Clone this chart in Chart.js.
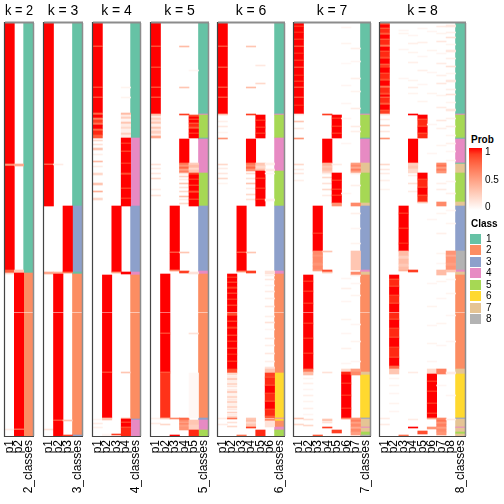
<!DOCTYPE html>
<html>
<head>
<meta charset="utf-8">
<script src="https://cdn.jsdelivr.net/npm/chart.js@4.4.1/dist/chart.umd.min.js"></script>
<style>
  body { margin: 0; background: #fff; width: 504px; height: 504px; position: relative; overflow: hidden;
         font-family: "Liberation Sans", Arial, sans-serif; }
  canvas { position: absolute; top: 0; }
  .lg { position: absolute; font-size: 10px; color: #000; line-height: 10px; }
  .lg.b { font-weight: bold; }
</style>
</head>
<body>
<script>
// Rows are samples (0..413, top to bottom). Runs are [firstRow, lastRow, value].
const N_ROWS = 413;
const panelKs = [2, 3, 4, 5, 6, 7, 8];
const classNames = ['1', '2', '3', '4', '5', '6', '7', '8'];
const probTicks = [1, 0.5, 0];

// class memberships, runs of [start, end, class]
const classesK2 = [[0,250,1],[250,289,2],[290,413,2]];
const classesK3 = [[0,183,1],[183,249,3],[249,251,1],[251,289,2],[290,412,2],[412,413,3]];
const classesK4 = [[0,115,1],[115,183,4],[183,249,3],[249,252,4],[252,289,2],[290,396,2],[396,397,3],[397,413,4]];
const classesK5 = [[0,91,1],[91,92,4],[92,115,5],[115,116,1],[116,150,4],[150,183,5],[183,248,3],[248,251,4],
  [251,289,2],[290,395,2],[395,397,3],[397,407,4],[407,413,5]];
const classesK6 = [[0,91,1],[91,92,4],[92,115,5],[115,148,4],[148,183,5],[183,248,3],[248,251,4],[251,289,2],
  [290,350,2],[350,395,6],[395,396,4],[396,398,6],[398,404,2],[404,407,4],[407,413,5]];
const classesK7 = [[0,91,1],[91,92,4],[92,115,5],[115,116,1],[116,140,4],[140,150,7],[150,180,5],[180,183,7],
  [183,247,3],[247,249,4],[249,252,7],[252,289,2],[290,349,2],[349,352,7],[352,395,6],[395,396,3],[396,404,7],
  [404,405,4],[405,409,7],[409,412,5],[412,413,8]];
const classesK8 = [[0,91,1],[91,92,4],[92,115,5],[115,116,1],[116,140,4],[140,141,1],[141,150,7],[150,179,5],
  [179,183,7],[183,228,3],[228,247,8],[247,249,4],[249,252,7],[252,289,2],[290,346,2],[346,351,7],[351,395,6],
  [395,396,3],[396,404,7],[404,405,4],[405,409,7],[409,411,5],[411,413,7]];

// membership probabilities, one list of runs per column p1..pk
const probK2 = [
  [[0,141,1],[141,143,0.55],[143,247,1],[247,250,0.8],[250,251,0.2],[406,407,0.1]],
  [[141,143,0.45],[247,250,0.3],[250,289,1],[290,406,1],[406,407,0.55],[407,413,1]]
];
const probK3 = [
  [[0,141,1],[141,142,0.6],[142,183,1],[249,251,0.45],[406,407,0.15]],
  [[141,142,0.1],[249,251,0.4],[251,289,1],[290,397,1],[397,398,0.7],[398,413,1]],
  [[183,249,1],[249,250,0.7],[397,398,0.3],[412,413,0.9]]
];
const probK4 = [
  [[0,23,1],[23,24,0.7],[24,64,1],[64,65,0.75],[65,74,1],[74,75,0.7],[75,90,1],[90,92,0.75],[92,95,1],[95,97,0.65],
   [97,100,0.9],[100,102,0.7],[102,106,1],[106,108,0.75],[108,112,0.95],[112,115,0.8],[117,118,0.2],[121,122,0.15],
   [125,127,0.3],[131,132,0.08],[138,139,0.35],[143,144,0.1],[150,152,0.2],[160,162,0.3],[168,169,0.4],[175,177,0.2],
   [396,397,0.05],[400,401,0.1],[404,405,0.08]],
  [[252,289,1],[290,349,1],[349,350,0.75],[350,395,1],[395,397,0.3],[411,413,0.05]],
  [[183,249,1],[249,250,0.5],[411,412,0.9]],
  [[64,65,0.06],[74,75,0.06],[90,92,0.35],[92,94,0.1],[94,96,0.25],[96,99,0.05],[99,101,0.3],[101,104,0.1],[104,106,0.2],
   [106,110,0.08],[110,112,0.25],[112,115,0.1],[115,120,1],[120,121,0.85],[121,128,1],[128,129,0.8],[129,140,1],
   [140,141,0.85],[141,150,1],[150,152,0.85],[152,165,1],[165,166,0.8],[166,175,1],[175,176,0.85],[176,183,1],
   [249,251,1],[349,350,0.3],[395,396,0.35],[396,399,1],[399,400,0.8],[400,404,1],[404,405,0.8],[405,413,0.95]]
];
const probK5 = [
  [[0,23,1],[23,24,0.7],[24,44,1],[44,45,0.75],[45,64,1],[64,65,0.7],[65,74,1],[74,75,0.7],[75,91,1],[91,93,0.35],
   [93,95,0.1],[95,97,0.25],[97,99,0.15],[99,101,0.3],[101,104,0.08],[104,106,0.3],[106,108,0.12],[108,111,0.25],
   [111,113,0.1],[113,115,0.45],[141,142,0.15],[145,146,0.1],[150,151,0.12],[155,156,0.2],[166,167,0.08],
   [172,173,0.15],[395,396,0.08],[400,401,0.1]],
  [[251,289,1],[290,310,1],[310,311,0.75],[311,349,1],[349,350,0.75],[350,395,0.93],[395,396,0.3],[401,402,0.2]],
  [[183,229,1],[229,230,0.65],[230,247,1],[247,248,0.6],[395,396,0.6],[412,413,1]],
  [[23,24,0.35],[64,65,0.3],[91,92,0.9],[116,140,1],[140,142,0.7],[142,144,0.55],[144,146,0.75],[146,148,0.5],
   [148,150,0.65],[150,151,0.15],[153,154,0.25],[156,157,0.1],[160,161,0.3],[164,165,0.15],[168,169,0.2],
   [173,174,0.35],[176,177,0.1],[180,181,0.2],[229,230,0.3],[248,250,0.9],[395,397,0.75],[397,399,0.6],
   [399,400,0.45],[400,402,0.6],[402,404,0.5],[404,407,0.55]],
  [[47,48,0.05],[92,94,0.85],[94,96,1],[96,97,0.8],[97,100,1],[100,101,0.75],[101,104,0.95],[104,106,0.8],
   [106,110,1],[110,111,0.85],[111,115,1],[140,142,0.25],[142,145,0.35],[145,147,0.2],[147,150,0.3],[150,152,0.9],
   [152,156,1],[156,157,0.85],[157,162,1],[162,163,0.8],[163,168,1],[168,170,0.85],[170,176,1],[176,177,0.8],
   [177,183,1],[249,251,0.15],[310,311,0.15],[350,395,0.04],[397,402,0.3],[402,407,0.25],[407,413,0.95]]
];
const probK6 = [
  [[0,23,1],[23,24,0.7],[24,44,1],[44,45,0.7],[45,64,1],[64,65,0.7],[65,74,1],[74,75,0.7],[75,91,1],[91,92,0.3],
   [98,99,0.08],[103,104,0.12],[109,110,0.06],[115,116,0.55],[141,142,0.2],[145,146,0.1],[150,151,0.12],
   [155,156,0.2],[160,161,0.06],[395,396,0.1],[401,402,0.1]],
  [[251,254,1],[254,255,0.85],[255,259,1],[259,260,0.8],[260,264,1],[264,266,0.9],[266,270,1],[270,271,0.8],
   [271,276,1],[276,277,0.85],[277,282,1],[282,283,0.8],[283,289,1],[290,293,0.85],[293,298,1],[298,299,0.8],
   [299,304,1],[304,306,0.9],[306,312,1],[312,313,0.8],[313,318,1],[318,319,0.85],[319,325,1],[325,326,0.8],
   [326,331,1],[331,332,0.9],[332,338,1],[338,339,0.85],[339,346,1],[346,350,0.85],[350,352,0.2],[353,354,0.1],
   [355,357,0.25],[358,359,0.08],[360,362,0.2],[363,364,0.15],[366,367,0.1],[368,370,0.25],[371,372,0.06],
   [373,375,0.2],[376,377,0.12],[378,380,0.22],[381,382,0.08],[383,385,0.2],[386,387,0.12],[389,390,0.25],
   [391,392,0.1],[393,395,0.2],[395,396,0.7],[399,400,0.15],[403,404,0.2]],
  [[183,229,1],[229,230,0.65],[230,248,1],[248,249,0.6],[412,413,0.7]],
  [[23,24,0.3],[64,65,0.35],[91,92,0.9],[116,140,1],[140,142,0.7],[142,144,0.6],[144,146,0.75],[146,148,0.55],
   [150,151,0.2],[155,156,0.15],[160,161,0.3],[165,166,0.1],[171,172,0.2],[176,177,0.15],[229,230,0.3],
   [248,250,0.9],[395,397,0.3],[397,399,0.35],[399,401,0.2],[401,404,0.3],[404,405,0.9]],
  [[42,43,0.12],[60,61,0.2],[92,97,1],[97,98,0.85],[98,104,1],[104,105,0.85],[105,110,1],[110,111,0.85],
   [111,115,1],[140,143,0.3],[143,146,0.2],[146,148,0.35],[148,155,1],[155,156,0.85],[156,165,1],[165,166,0.85],
   [166,176,1],[176,177,0.85],[177,183,1],[407,413,0.95]],
  [[140,142,0.08],[146,148,0.1],[150,151,0.05],[176,178,0.08],[248,251,0.15],[252,253,0.08],[256,257,0.12],
   [262,263,0.05],[268,269,0.1],[275,276,0.08],[283,284,0.12],[293,294,0.08],[299,300,0.15],[306,307,0.05],
   [315,316,0.1],[322,323,0.08],[330,331,0.12],[338,339,0.08],[344,346,0.15],[346,350,0.3],[350,354,0.9],
   [354,355,0.8],[355,362,0.95],[362,363,0.8],[363,370,1],[370,371,0.85],[371,378,0.95],[378,379,0.8],
   [379,386,1],[386,387,0.85],[387,393,0.95],[393,395,0.8],[396,398,0.6],[398,404,0.15]]
];
const probK7 = [
  [[0,3,1],[3,4,0.85],[4,9,1],[9,10,0.9],[10,16,1],[16,17,0.85],[17,23,1],[23,24,0.7],[24,30,1],[30,31,0.9],
   [31,37,1],[37,38,0.85],[38,44,1],[44,45,0.7],[45,52,1],[52,53,0.9],[53,58,1],[58,59,0.85],[59,64,1],
   [64,65,0.7],[65,74,1],[74,75,0.7],[75,82,1],[82,83,0.9],[83,91,1],[91,92,0.1],[98,99,0.3],[105,106,0.12],
   [115,116,0.55],[141,142,0.2],[146,147,0.1],[150,151,0.12],[157,158,0.08],[395,396,0.3],[401,402,0.2]],
  [[252,258,1],[258,259,0.85],[259,268,1],[268,269,0.85],[269,280,1],[280,281,0.85],[281,289,1],[290,300,1],
   [300,301,0.85],[301,315,1],[315,316,0.85],[316,330,1],[330,331,0.85],[331,346,1],[346,349,0.7],[349,352,0.35],
   [355,356,0.06],[360,361,0.08],[366,367,0.05],[372,373,0.08],[378,379,0.06],[385,386,0.08],[391,392,0.05],
   [396,397,0.15],[402,403,0.2]],
  [[183,210,1],[210,211,0.85],[211,228,1],[228,232,0.6],[232,234,0.55],[234,240,0.6],[240,243,0.55],[243,247,0.6],
   [247,248,0.5],[412,413,0.8]],
  [[91,92,0.9],[116,140,1],[140,143,0.4],[143,145,0.3],[145,148,0.35],[148,150,0.25],[150,151,0.1],[154,155,0.2],
   [160,161,0.15],[166,167,0.2],[172,173,0.1],[228,229,0.3],[247,249,0.85],[249,250,0.3],[349,350,0.15],
   [396,398,0.3],[399,400,0.15],[404,405,0.9]],
  [[92,95,1],[95,96,0.85],[96,103,1],[103,104,0.85],[104,110,1],[110,111,0.85],[111,115,1],[141,142,0.1],
   [150,157,1],[157,158,0.85],[158,166,1],[166,167,0.85],[167,172,1],[172,173,0.85],[173,180,1],[180,183,0.55],
   [407,410,0.9]],
  [[4,5,0.05],[20,21,0.06],[40,41,0.04],[62,63,0.05],[80,81,0.05],[95,96,0.05],[120,121,0.05],[170,171,0.05],
   [255,256,0.05],[265,266,0.08],[278,279,0.05],[296,297,0.06],[310,311,0.05],[325,326,0.07],[340,341,0.05],
   [346,349,0.2],[349,352,0.95],[352,360,1],[360,361,0.85],[361,372,1],[372,373,0.85],[373,385,1],[385,386,0.85],
   [386,395,1],[395,396,0.6]],
  [[25,26,0.08],[38,39,0.05],[55,56,0.08],[68,69,0.06],[85,86,0.1],[103,104,0.1],[108,109,0.08],[140,142,0.5],
   [142,144,0.6],[144,146,0.45],[146,148,0.65],[148,150,0.5],[150,151,0.1],[162,163,0.08],[180,183,0.6],
   [190,191,0.08],[205,206,0.05],[220,221,0.06],[228,247,0.3],[249,252,0.6],[252,253,0.1],[260,261,0.05],
   [272,273,0.06],[301,302,0.05],[318,319,0.06],[338,339,0.05],[346,349,0.5],[349,352,0.6],[395,397,0.55],
   [397,399,0.65],[399,401,0.5],[401,404,0.6],[404,406,0.45],[406,409,0.6],[409,412,0.5]]
];
const probK8 = [
  [[0,2,0.85],[2,5,1],[5,6,0.75],[6,10,0.95],[10,12,0.8],[12,16,1],[16,17,0.75],[17,22,0.95],[22,24,0.7],
   [24,28,1],[28,29,0.8],[29,34,0.95],[34,36,0.85],[36,41,1],[41,42,0.75],[42,45,0.9],[45,50,1],[50,51,0.8],
   [51,56,0.95],[56,58,0.85],[58,63,1],[63,65,0.7],[65,70,0.95],[70,72,0.85],[72,74,1],[74,75,0.7],[75,80,0.95],
   [80,82,0.8],[82,87,1],[87,88,0.8],[88,91,0.9],[91,92,0.15],[96,97,0.1],[102,103,0.3],[108,109,0.12],
   [115,116,0.55],[141,142,0.2],[146,147,0.12],[150,151,0.1],[157,158,0.08],[166,167,0.06],[395,396,0.1],
   [401,402,0.1]],
  [[252,256,1],[256,257,0.8],[257,263,0.95],[263,264,0.8],[264,272,1],[272,273,0.85],[273,280,0.95],[280,281,0.8],
   [281,289,1],[290,296,0.95],[296,297,0.8],[297,305,1],[305,306,0.85],[306,314,0.95],[314,315,0.8],[315,324,1],
   [324,325,0.85],[325,334,0.95],[334,335,0.8],[335,343,1],[343,346,0.75],[346,351,0.3],[355,356,0.05],
   [362,363,0.06],[370,371,0.05],[380,381,0.06],[388,389,0.05]],
  [[7,8,0.05],[10,11,0.06],[26,27,0.05],[55,56,0.05],[183,190,1],[190,191,0.85],[191,205,1],[205,206,0.85],
   [206,220,1],[220,221,0.9],[221,228,1],[228,233,0.35],[233,236,0.25],[236,241,0.35],[241,244,0.28],
   [244,247,0.35],[247,248,0.4],[412,413,0.7]],
  [[12,13,0.05],[20,21,0.08],[29,30,0.06],[39,40,0.08],[57,58,0.06],[64,65,0.1],[70,71,0.06],[91,92,1],
   [116,140,1],[140,141,0.3],[141,143,0.25],[143,146,0.3],[146,150,0.2],[152,153,0.1],[160,161,0.15],
   [168,169,0.1],[247,249,0.9],[349,350,0.1],[396,397,0.1],[404,405,1]],
  [[5,6,0.05],[19,20,0.08],[33,34,0.05],[47,48,0.08],[61,62,0.05],[78,79,0.06],[92,96,1],[96,97,0.8],
   [97,103,0.95],[103,104,0.8],[104,110,1],[110,111,0.8],[111,115,0.95],[150,156,1],[156,157,0.85],
   [157,164,0.95],[164,165,0.8],[165,172,1],[172,173,0.8],[173,179,0.95],[179,180,0.3],[408,411,0.85]],
  [[8,9,0.05],[27,28,0.06],[49,50,0.05],[70,71,0.06],[101,102,0.05],[130,131,0.05],[196,197,0.05],
   [260,261,0.05],[283,284,0.06],[302,303,0.05],[320,321,0.06],[338,339,0.05],[346,351,0.2],[351,358,1],
   [358,359,0.85],[359,368,1],[368,369,0.85],[369,380,1],[380,381,0.85],[381,390,1],[390,391,0.85],[391,395,1],
   [395,396,0.5],[404,406,0.55]],
  [[3,4,0.1],[10,11,0.06],[18,19,0.12],[30,31,0.05],[40,41,0.1],[52,53,0.08],[60,61,0.12],[72,73,0.06],
   [84,85,0.1],[97,98,0.12],[105,106,0.08],[122,123,0.06],[140,142,0.6],[142,144,0.7],[144,146,0.5],
   [146,148,0.65],[148,150,0.55],[160,161,0.08],[166,167,0.1],[179,183,0.6],[190,191,0.06],[210,211,0.08],
   [230,231,0.06],[240,241,0.05],[247,252,0.35],[258,259,0.06],[275,276,0.05],[300,301,0.06],[322,323,0.05],
   [346,351,0.65],[362,363,0.05],[395,397,0.6],[397,399,0.7],[399,401,0.55],[401,404,0.65],[404,406,0.5],
   [406,409,0.6],[409,412,0.55]],
  [[2,4,0.12],[9,10,0.08],[14,15,0.15],[21,22,0.06],[27,29,0.12],[35,36,0.08],[43,44,0.15],[50,51,0.06],
   [57,59,0.12],[66,67,0.08],[71,72,0.15],[79,80,0.06],[86,88,0.12],[95,96,0.08],[103,104,0.1],[112,113,0.06],
   [120,121,0.08],[128,129,0.05],[137,138,0.06],[158,159,0.06],[170,171,0.08],[187,188,0.05],[200,201,0.06],
   [228,232,0.55],[232,234,0.45],[234,240,0.55],[240,243,0.5],[243,247,0.55],[247,249,0.3],[256,257,0.05],
   [270,271,0.06],[292,293,0.05],[318,319,0.05],[349,351,0.1],[372,373,0.05],[396,397,0.1]]
];

const allProbs = [probK2, probK3, probK4, probK5, probK6, probK7, probK8];
const allClasses = [classesK2, classesK3, classesK4, classesK5, classesK6, classesK7, classesK8];

// layout (pixels)
const panelLeft = [5, 44, 93, 151, 218, 294, 380];
const panelWidth = [28, 38, 47, 57, 66, 76, 85];
const PAD = 6;

const CLASS_COLORS = ['#66C2A5', '#FC8D62', '#8DA0CB', '#E78AC3', '#A6D854', '#FFD92F', '#E5C494', '#B3B3B3'];
const FONT = '"Liberation Sans", Arial, sans-serif';
Chart.defaults.font.family = FONT;

// white -> red, interpolated in LAB space
function toLinear(c) { c /= 255; return c <= 0.04045 ? c / 12.92 : Math.pow((c + 0.055) / 1.055, 2.4); }
function toLab(r, g, b) {
  const R = toLinear(r), G = toLinear(g), B = toLinear(b);
  const x = (0.4124 * R + 0.3576 * G + 0.1805 * B) / 0.95047;
  const y = 0.2126 * R + 0.7152 * G + 0.0722 * B;
  const z = (0.0193 * R + 0.1192 * G + 0.9505 * B) / 1.08883;
  const f = t => t > 0.008856 ? Math.cbrt(t) : 7.787 * t + 16 / 116;
  return [116 * f(y) - 16, 500 * (f(x) - f(y)), 200 * (f(y) - f(z))];
}
function fromLab(L, a, b) {
  const fy = (L + 16) / 116, fx = fy + a / 500, fz = fy - b / 200;
  const inv = t => t * t * t > 0.008856 ? t * t * t : (t - 16 / 116) / 7.787;
  const x = inv(fx) * 0.95047, y = inv(fy), z = inv(fz) * 1.08883;
  const R = 3.2406 * x - 1.5372 * y - 0.4986 * z;
  const G = -0.9689 * x + 1.8758 * y + 0.0415 * z;
  const B = 0.0557 * x - 0.2040 * y + 1.0570 * z;
  const g = c => { c = Math.min(1, Math.max(0, c)); return Math.round(255 * (c <= 0.0031308 ? 12.92 * c : 1.055 * Math.pow(c, 1 / 2.4) - 0.055)); };
  return `rgb(${g(R)},${g(G)},${g(B)})`;
}
const LAB_WHITE = toLab(255, 255, 255), LAB_RED = toLab(255, 0, 0);
function probColor(p) { return fromLab(...LAB_WHITE.map((w, i) => w + (LAB_RED[i] - w) * p)); }

// panel border: dark left/bottom, grey top/right
const frame = {
  id: 'frame',
  afterDatasetsDraw(chart) {
    const { left, right, top, bottom } = chart.chartArea;
    const c = chart.ctx;
    c.save();
    c.lineWidth = 2;
    c.strokeStyle = '#8c8c8c';
    c.beginPath(); c.moveTo(left, top - 0.5); c.lineTo(right + 1, top - 0.5); c.stroke();
    c.lineWidth = 1.5;
    c.beginPath(); c.moveTo(right + 0.5, top); c.lineTo(right + 0.5, bottom); c.stroke();
    c.strokeStyle = '#444';
    c.lineWidth = 1.2;
    c.beginPath(); c.moveTo(left - 0.5, top - 1); c.lineTo(left - 0.5, bottom + 0.5); c.lineTo(right + 1, bottom + 0.5); c.stroke();
    c.restore();
  }
};

panelKs.forEach((k, n) => {
  const canvas = document.createElement('canvas');
  const w = panelWidth[n] + 2 * PAD;
  canvas.width = w; canvas.height = 504;
  canvas.style.left = (panelLeft[n] - PAD) + 'px';
  canvas.style.width = w + 'px'; canvas.style.height = '504px';
  document.body.appendChild(canvas);

  const probs = allProbs[n];
  const labels = probs.map((_, i) => 'p' + (i + 1)).concat([k + '_classes']);
  const probData = [];
  probs.forEach((runs, i) => runs.forEach(r => probData.push({ x: labels[i], y: [r[0], r[1]], v: r[2] })));
  const classData = allClasses[n].map(r => ({ x: labels[labels.length - 1], y: [r[0], r[1]], v: r[2] }));

  new Chart(canvas, {
    type: 'bar',
    data: {
      labels: labels,
      datasets: [
        { data: probData, backgroundColor: c => c.raw ? probColor(c.raw.v) : '#fff',
          grouped: false, barPercentage: 1, categoryPercentage: 1, borderWidth: 0 },
        { data: classData, backgroundColor: c => c.raw ? CLASS_COLORS[c.raw.v - 1] : '#fff',
          grouped: false, barPercentage: 1, categoryPercentage: 1, borderWidth: 0 }
      ]
    },
    options: {
      responsive: false,
      animation: false,
      layout: { padding: { left: PAD, right: PAD, top: 0, bottom: 0 } },
      plugins: {
        legend: { display: false },
        tooltip: { enabled: false },
        title: { display: true, text: 'k = ' + k, color: '#000',
                 font: { size: 14, weight: 'normal' }, padding: { top: 3, bottom: 3.2 } }
      },
      scales: {
        x: {
          grid: { display: false, drawTicks: false, tickLength: 0 },
          border: { display: false },
          ticks: { color: '#000', font: { size: 12 }, minRotation: 90, maxRotation: 90, padding: 4, autoSkip: false },
          afterFit: s => { s.height = 504 - 436; s.paddingLeft = 0; s.paddingRight = 0; }
        },
        y: { display: false, min: 0, max: N_ROWS, reverse: true }
      }
    },
    plugins: [frame]
  });
});

// legend
function addText(text, x, y, bold) {
  const d = document.createElement('div');
  d.className = 'lg' + (bold ? ' b' : '');
  d.textContent = text;
  d.style.left = x + 'px'; d.style.top = y + 'px';
  document.body.appendChild(d);
}
addText('Prob', 471, 135, true);
const grad = document.createElement('div');
const stops = [];
for (let i = 0; i <= 10; i++) stops.push(probColor(1 - i / 10) + ' ' + (i * 10) + '%');
Object.assign(grad.style, { position: 'absolute', left: '469px', top: '148px', width: '13px', height: '62px',
  background: 'linear-gradient(' + stops.join(',') + ')' });
document.body.appendChild(grad);
const tickY = [152, 180, 207];
probTicks.forEach((t, i) => addText(String(t), 485, tickY[i] - 5));

addText('Class', 471, 219, true);
classNames.forEach((name, i) => {
  const y = 234 + i * 11.43;
  const sw = document.createElement('div');
  Object.assign(sw.style, { position: 'absolute', left: '470px', top: y + 'px', width: '11px', height: '10px',
    background: CLASS_COLORS[i] });
  document.body.appendChild(sw);
  addText(name, 486, y);
});
</script>
</body>
</html>
